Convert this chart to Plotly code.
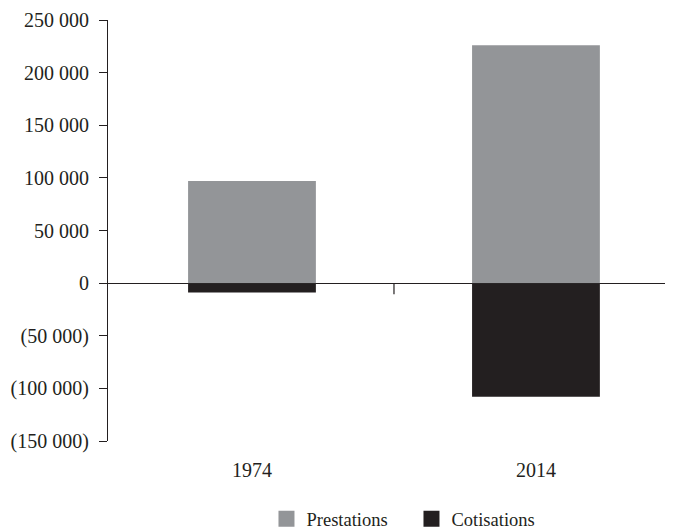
import plotly.graph_objects as go

categories = ["1974", "2014"]
prestations = [97000, 226000]
cotisations = [-9000, -108000]
y_ticks = [-150000, -100000, -50000, 0, 50000, 100000, 150000, 200000, 250000]
series_names = ["Prestations", "Cotisations"]
series_colors = ["#939598", "#231f20"]


def fmt(v):
    s = f"{abs(v):,}".replace(",", " ")
    return f"({s})" if v < 0 else s


y_ticktext = [fmt(v) for v in y_ticks]

fig = go.Figure()
for name, vals, col in zip(series_names, [prestations, cotisations], series_colors):
    fig.add_trace(go.Bar(x=categories, y=vals, name=name, showlegend=False,
                         marker=dict(color=col, line=dict(width=0)), width=0.45))
# legend entries with larger square swatches
for name, col in zip(series_names, series_colors):
    fig.add_trace(go.Scatter(x=[None], y=[None], mode="markers", name=name,
                             marker=dict(symbol="square", size=18, color=col)))

# tick mark between categories on the zero line
fig.add_shape(type="line", xref="x", yref="y", x0=0.5, x1=0.5,
              ysizemode="pixel", yanchor=0, y0=0, y1=-11,
              line=dict(color="#231f20", width=1.2))

fig.update_layout(
    barmode="relative",
    width=665, height=545,
    margin=dict(l=100, r=1, t=10, b=112),
    paper_bgcolor="white", plot_bgcolor="white",
    font=dict(family="Liberation Serif", size=20, color="#231f20"),
    showlegend=True,
    legend=dict(orientation="h", xanchor="left", x=0.281, yanchor="middle",
                y=-0.186, font=dict(size=18.5), itemsizing="trace",
                entrywidth=100),
    xaxis=dict(type="category", range=[-0.507, 1.479], showgrid=False,
               showline=False, zeroline=False, ticks="", ticklabelstandoff=15),
    yaxis=dict(range=[-150000, 250000], tickvals=y_ticks, ticktext=y_ticktext,
               showgrid=False, showline=True, linecolor="#231f20", linewidth=1.2,
               ticks="outside", ticklen=8, tickcolor="#231f20", tickwidth=1.2,
               zeroline=True, zerolinecolor="#231f20", zerolinewidth=1.2,
               ticklabelstandoff=6, ticklabeloverflow="allow"),
)

fig.write_html("out.html",
               post_script="document.documentElement.style.overflow='hidden';"
                           "document.body.style.overflow='hidden';")
